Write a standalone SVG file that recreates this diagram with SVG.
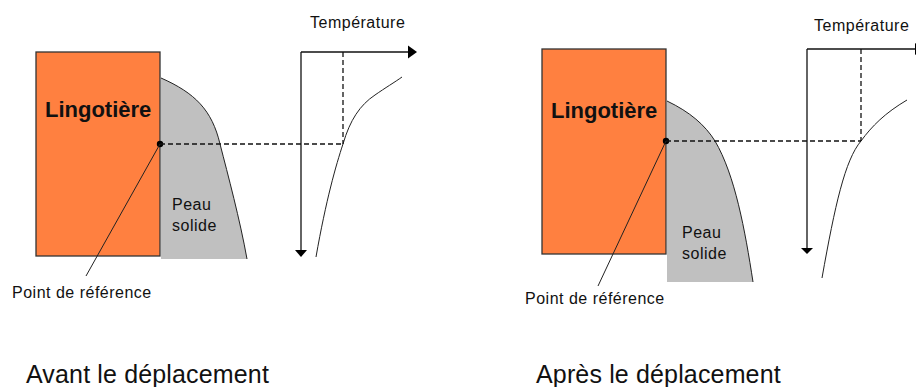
<svg xmlns="http://www.w3.org/2000/svg" width="916" height="387" viewBox="0 0 916 387">
  <style>
    .mould { fill: #FF8040; stroke: #333333; stroke-width: 1.3; }
    .skin { fill: #C0C0C0; stroke: none; }
    .edge { fill: none; stroke: #222222; stroke-width: 1; }
    .axis { fill: none; stroke: #111111; stroke-width: 1.3; }
    .dash { fill: none; stroke: #111111; stroke-width: 1.3; stroke-dasharray: 5,3; }
    .curve { fill: none; stroke: #222222; stroke-width: 1; }
    .lead { fill: none; stroke: #222222; stroke-width: 1; }
    .head { fill: #000000; }
    .t { font-family: "Liberation Sans", Arial, sans-serif; fill: #111111; }
    .big { font-size: 22px; font-weight: bold; }
    .lab { font-size: 16px; letter-spacing: 0.5px; }
    .title { font-size: 25px; letter-spacing: 0.15px; }
  </style>

  <!-- Left panel: Avant le déplacement -->
  <g id="left-skin">
    <path class="skin" d="M161,78 C195,93 212,110 220,144 C228,175 240,220 247,259 L161,259 Z"/>
    <path class="edge" d="M161,78 C195,93 212,110 220,144 C228,175 240,220 247,259"/>
    <text class="t lab" x="172" y="210">Peau</text>
    <text class="t lab" x="172" y="231">solide</text>
  </g>
  <g id="left-mould">
    <rect class="mould" x="36" y="52" width="124" height="204"/>
    <text class="t big" x="45" y="117">Lingotière</text>
  </g>
  <g id="left-axes">
    <line class="axis" x1="301" y1="52" x2="301" y2="250"/>
    <polygon class="head" points="295,250 307,250 301,257"/>
    <line class="axis" x1="301" y1="52" x2="409" y2="52"/>
    <polygon class="head" points="408,45.5 408,58.5 417,52"/>
    <text class="t lab" x="310" y="28">Température</text>
  </g>
  <g id="left-profile">
    <path class="curve" d="M316,257 C326,200 336,165 343,144 C350,120 360,105 375,95 C385,88 395,82 402,77"/>
  </g>
  <g id="left-ref">
    <circle cx="160" cy="144" r="3.2" fill="#000"/>
    <text class="t lab" x="12" y="298">Point de référence</text>
  </g>
  <text class="t title" x="26" y="383">Avant le déplacement</text>

  <!-- Right panel: Après le déplacement -->
  <g id="right-skin">
    <path class="skin" d="M667,101 C690,112 705,125 715,141 C735,175 745,230 753,282 L667,282 Z"/>
    <path class="edge" d="M667,101 C690,112 705,125 715,141 C735,175 745,230 753,282"/>
    <text class="t lab" x="682" y="238">Peau</text>
    <text class="t lab" x="682" y="259">solide</text>
  </g>
  <g id="right-mould">
    <rect class="mould" x="542" y="49" width="124" height="205"/>
    <text class="t big" x="551" y="118">Lingotière</text>
  </g>
  <g id="right-axes">
    <line class="axis" x1="807" y1="49" x2="807" y2="248"/>
    <polygon class="head" points="801,248 813,248 807,254"/>
    <line class="axis" x1="807" y1="49" x2="916" y2="49"/>
    <polygon class="head" points="915,43 915,55 924,49"/>
    <text class="t lab" x="814" y="31">Température</text>
  </g>
  <g id="right-profile">
    <path class="curve" d="M822,278 C835,205 845,160 861,141 C872,126 885,113 907,100"/>
  </g>
  <g id="right-ref">
    <circle cx="666" cy="141" r="3.2" fill="#000"/>
    <text class="t lab" x="525" y="304">Point de référence</text>
  </g>
  <text class="t title" x="536" y="383">Après le déplacement</text>

  <!-- Connectors -->
  <g id="connectors">
    <line class="dash" x1="160" y1="144" x2="343" y2="144"/>
    <line class="dash" x1="343" y1="52" x2="343" y2="144"/>
    <line class="lead" x1="160" y1="144" x2="86" y2="276"/>
    <line class="dash" x1="666" y1="141" x2="861" y2="141"/>
    <line class="dash" x1="861" y1="49" x2="861" y2="141"/>
    <line class="lead" x1="666" y1="141" x2="598" y2="286"/>
  </g>
</svg>
